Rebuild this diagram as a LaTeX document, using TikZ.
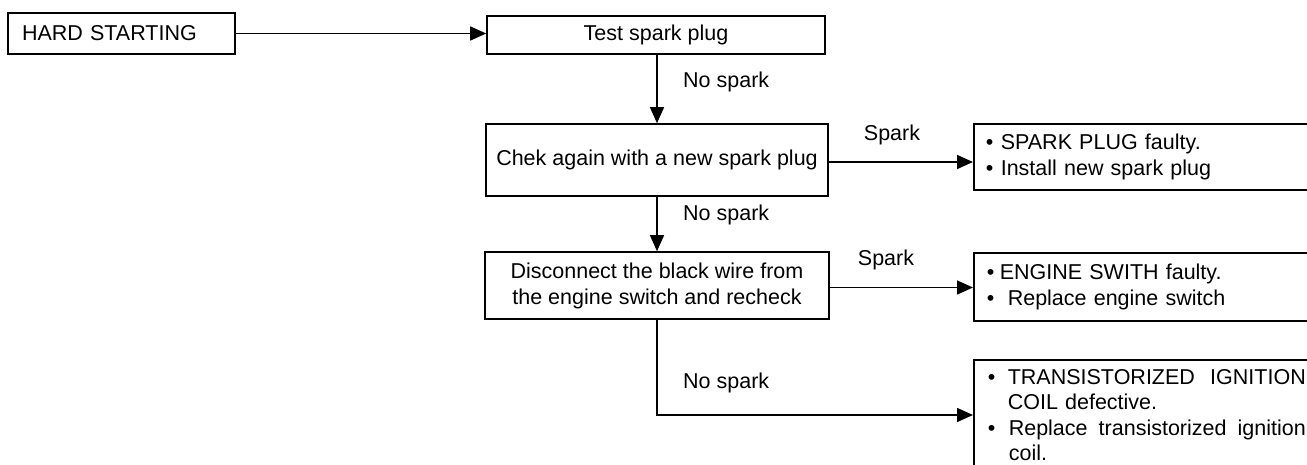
\documentclass[tikz,border=0pt]{standalone}
\usepackage{fontspec}
\setmainfont{Liberation Sans}
\usetikzlibrary{arrows.meta}
\begin{document}
\begin{tikzpicture}[x=1pt,y=-1pt,
  font=\fontsize{21.5}{26}\selectfont,
  every node/.style={inner sep=0pt},
  box/.style={draw,line width=1.6pt,rectangle},
  lbl/.style={anchor=west},
  conn/.style={line width=1.5pt},
  arr/.style={conn,-{Triangle[length=16pt,width=14pt]}}]
\useasboundingbox (0,0) rectangle (1307,465);
\clip (0,0) rectangle (1307,465);
\newcommand{\bul}[1]{\makebox[#1][l]{\textbullet}}
% nodes
\node[box,minimum width=227pt,minimum height=41pt,text width=199pt,inner xsep=14pt,align=left] (hs) at (121.5,33.5) {HARD STARTING};
\node[box,minimum width=338pt,minimum height=38pt] (test) at (656,35) {Test spark plug};
\node[box,minimum width=342pt,minimum height=72pt] (chek) at (657,160) {Chek again with a new spark plug};
\node[box,minimum width=344pt,minimum height=67pt,align=center] (disc) at (657,285.5) {Disconnect the black wire from\\the engine switch and recheck};
\node[box,anchor=west,minimum height=66pt,text width=400pt,inner xsep=12pt,align=left] (sp) at (973,157)
  {\bul{15pt}SPARK PLUG faulty.\\\bul{15pt}Install new spark plug};
\node[box,anchor=west,minimum height=68pt,text width=400pt,inner xsep=13pt,align=left] (es) at (973,287)
  {\bul{13pt}ENGINE SWITH faulty.\\\bul{21pt}Replace engine switch};
\node[box,anchor=west,minimum height=110pt,text width=400pt,inner xsep=14pt,align=left,
  font=\fontsize{21.5}{25.5}\selectfont] (tr) at (973,415)
  {\bul{20pt}\makebox[298pt][s]{TRANSISTORIZED\hfill IGNITION}\\
   \hspace*{20pt}COIL defective.\\
   \bul{21pt}\makebox[297pt][s]{Replace\hfill transistorized\hfill ignition}\\
   \hspace*{21pt}coil.};
% labels
\node[lbl] (l1) at (683,82) {No spark};
\node (l2) at (892,135) {Spark};
\node[lbl] (l3) at (683,215) {No spark};
\node (l4) at (886,260) {Spark};
\node[lbl] (l5) at (683,383) {No spark};
% connectors
\draw[arr] (hs.east) -- (test.west |- hs.east);
\draw[arr] (chek.north |- test.south) -- (chek.north);
\draw[arr] ([yshift=-2pt]chek.east) -- ([yshift=-2pt]sp.west |- chek.east);
\draw[arr] (chek.south) -- (disc.north);
\draw[arr] ([yshift=-2pt]disc.east) -- ([yshift=-2pt]es.west |- disc.east);
\draw[arr] (disc.south) |- (tr.west);
\end{tikzpicture}
\end{document}
